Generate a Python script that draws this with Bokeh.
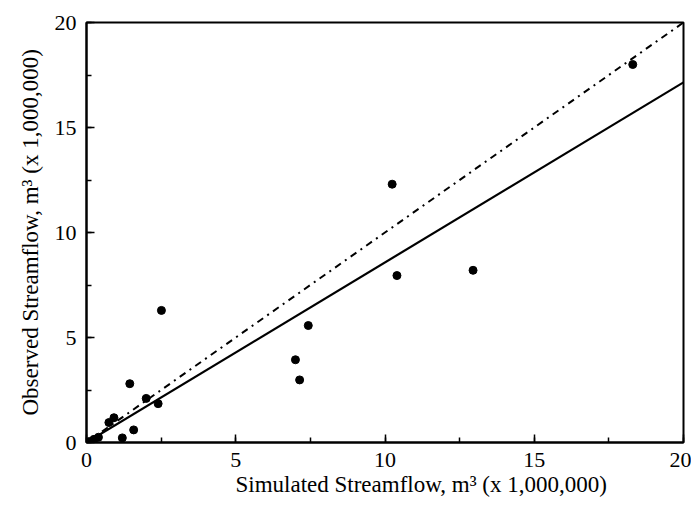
from bokeh.plotting import figure
from bokeh.models import Range1d, SingleIntervalTicker, Title
from bokeh.embed import file_html
from bokeh.resources import INLINE

# Data
sim_x = [0.10, 0.25, 0.40, 0.75, 0.92, 1.20, 1.45, 1.58, 2.00, 2.40, 2.51,
         7.00, 7.14, 7.43, 10.24, 10.40, 12.95, 18.30]
obs_y = [0.05, 0.15, 0.25, 0.95, 1.18, 0.22, 2.80, 0.60, 2.10, 1.85, 6.29,
         3.94, 2.98, 5.57, 12.30, 7.95, 8.20, 18.00]

fit_x = [0, 20]
fit_y = [0, 17.15]
one_x = [0, 20]
one_y = [0, 20]

x_ticks = [0, 5, 10, 15, 20]
y_ticks = [0, 5, 10, 15, 20]

x_title = "Simulated Streamflow,  m³  (x 1,000,000)"
y_title = "Observed Streamflow,  m³  (x 1,000,000)"

FONT = "Liberation Serif"

p = figure(width=691, height=506, output_backend="svg", toolbar_location=None,
           x_range=Range1d(0, 20), y_range=Range1d(0, 20),
           min_border_left=86, min_border_right=8, min_border_top=22,
           min_border_bottom=64)

p.line(one_x, one_y, line_color="black", line_width=2, line_dash="7 5 2 5")
p.line(fit_x, fit_y, line_color="black", line_width=2.2)
p.scatter(sim_x, obs_y, size=8, color="black")

p.xgrid.visible = False
p.ygrid.visible = False
p.outline_line_color = "black"
p.outline_line_width = 2
p.outline_line_alpha = 1

for ax, ticks in ((p.xaxis[0], x_ticks), (p.yaxis[0], y_ticks)):
    ax.ticker = SingleIntervalTicker(interval=ticks[1] - ticks[0], num_minor_ticks=2)
    ax.axis_line_color = "black"
    ax.axis_line_width = 2
    ax.major_tick_in = 8
    ax.major_tick_out = 0
    ax.minor_tick_in = 5
    ax.minor_tick_out = 0
    ax.major_tick_line_width = 1.5
    ax.minor_tick_line_width = 1.5
    ax.major_tick_line_color = "black"
    ax.minor_tick_line_color = "black"
    ax.major_label_text_font = FONT
    ax.major_label_text_font_size = "22px"
    ax.major_label_text_color = "black"

p.xaxis.major_label_standoff = 10
p.yaxis.major_label_standoff = 10

p.add_layout(Title(text=x_title, align="left", offset=149, standoff=0,
                   text_font=FONT, text_font_size="23px",
                   text_font_style="normal", text_color="black"), "below")
p.add_layout(Title(text=y_title, align="left", offset=27, standoff=18,
                   text_font=FONT, text_font_size="23px",
                   text_font_style="normal", text_color="black"), "left")

open("out.html", "w").write(file_html(p, INLINE))
